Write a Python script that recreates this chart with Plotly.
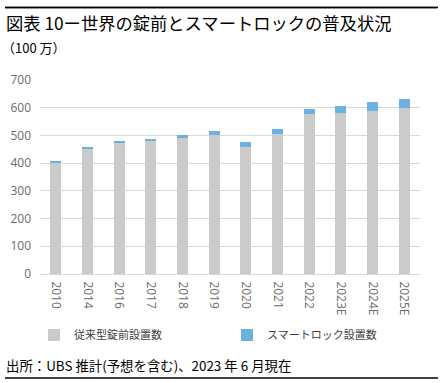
import plotly.graph_objects as go

categories = ["2010", "2014", "2016", "2017", "2018", "2019", "2020", "2021", "2022", "2023E", "2024E", "2025E"]
conventional = [403, 452, 474, 480, 490, 500, 458, 504, 576, 582, 589, 600]
smart = [4, 5, 5, 8, 11, 15, 19, 18, 20, 24, 30, 30]
y_ticks = [0, 100, 200, 300, 400, 500, 600, 700]

W, H = 441, 383
L, R, T, B = 40, 21, 80, 109
PW, PH = W - L - R, H - T - B

def px(x):
    return (x - L) / PW

def py(y):
    return (H - B - y) / PH

cjk = "Noto Sans CJK JP"

fig = go.Figure()
fig.add_trace(go.Bar(x=categories, y=conventional, name="従来型錠前設置数",
                     marker=dict(color="#cbcbcb", line=dict(width=0))))
fig.add_trace(go.Bar(x=categories, y=smart, name="スマートロック設置数",
                     marker=dict(color="#6cb2e0", line=dict(width=0))))

fig.update_layout(
    width=W, height=H,
    margin=dict(l=L, r=R, t=T, b=B, autoexpand=False),
    barmode="stack", bargap=0.66,
    paper_bgcolor="white", plot_bgcolor="white",
    font=dict(family=cjk, color="#595959", size=12),
    showlegend=True,
    legend=dict(orientation="h", x=px(34), xanchor="left", y=py(335), yanchor="middle",
                entrywidth=148, entrywidthmode="pixels",
                font=dict(family=cjk, size=11, color="#404040"),
                itemwidth=30, traceorder="normal", bgcolor="rgba(0,0,0,0)"),
    xaxis=dict(type="category", tickangle=90, showgrid=False, showline=True,
               linecolor="#d9d9d9", linewidth=1, ticks="", ticklabelstandoff=4,
               tickfont=dict(family="Open Sans, Liberation Sans", size=12, color="#6b6b6b")),
    yaxis=dict(range=[0, 700], tickvals=y_ticks, showgrid=True, gridcolor="#d9d9d9",
               gridwidth=1, zeroline=False, showline=False, ticks="", ticklabelstandoff=8,
               tickfont=dict(family="Open Sans, Liberation Sans", size=12, color="#6b6b6b")),
    shapes=[
        dict(type="line", xref="paper", yref="paper", x0=px(5), x1=px(438), y0=py(7.5), y1=py(7.5),
             line=dict(color="black", width=1.5)),
        dict(type="line", xref="paper", yref="paper", x0=px(5), x1=px(438), y0=py(378), y1=py(378),
             line=dict(color="black", width=1.5)),
    ],
    annotations=[
        dict(text=" ", xref="paper", yref="paper", x=px(5), y=py(7.5),
             showarrow=True, arrowhead=0, arrowwidth=1.5, arrowcolor="black",
             axref="pixel", ayref="pixel", ax=433, ay=0, standoff=0, startstandoff=0,
             font=dict(size=1)),
        dict(text="図表 10ー世界の錠前とスマートロックの普及状況", xref="paper", yref="paper",
             x=px(4), y=py(23), xanchor="left", yanchor="middle", showarrow=False,
             font=dict(family=cjk, size=17.3, color="black")),
        dict(text="（100 万）", xref="paper", yref="paper",
             x=px(0), y=py(48), xanchor="left", yanchor="middle", showarrow=False,
             font=dict(family=cjk, size=13, color="black")),
        dict(text="出所：UBS 推計(予想を含む)、2023 年 6 月現在", xref="paper", yref="paper",
             x=px(4), y=py(365), xanchor="left", yanchor="middle", showarrow=False,
             font=dict(family=cjk, size=13.4, color="black")),
    ],
)

fig.write_html("out.html", config={"displayModeBar": False},
               post_script="document.body.style.margin='0';document.body.style.overflow='hidden';")
